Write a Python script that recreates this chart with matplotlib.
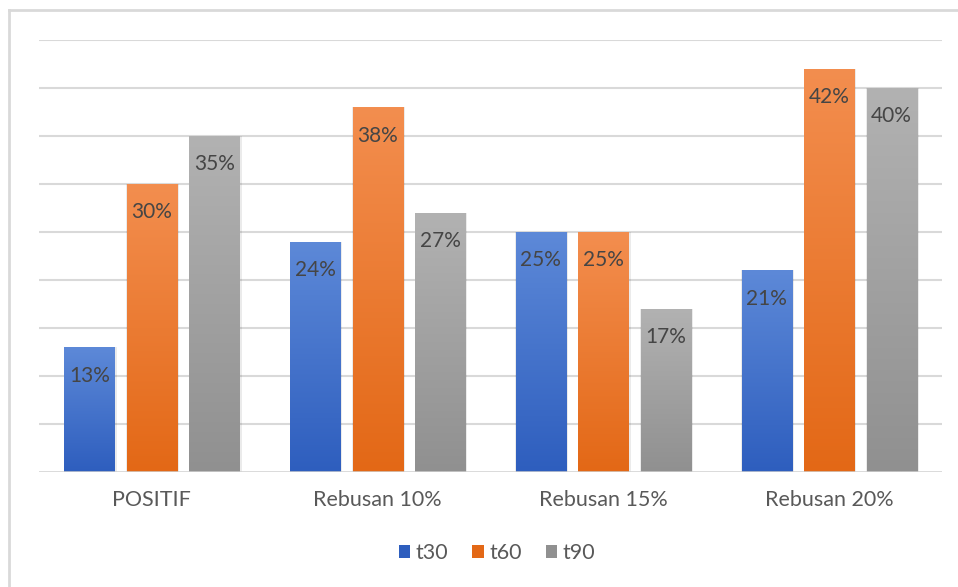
import numpy as np
import matplotlib
matplotlib.use("Agg")
import matplotlib.pyplot as plt
from matplotlib.colors import LinearSegmentedColormap
from matplotlib.patches import Patch
from matplotlib.lines import Line2D

categories = ["POSITIF", "Rebusan 10%", "Rebusan 15%", "Rebusan 20%"]
series = ["t30", "t60", "t90"]
t30 = [13, 24, 25, 21]
t60 = [30, 38, 25, 42]
t90 = [35, 27, 17, 40]

# (top, bottom) colours of the gradient
colors = {
    "t30": ("#5D89D8", "#2E5EBE"),
    "t60": ("#F38E4F", "#E36816"),
    "t90": ("#B2B2B2", "#909090"),
}

plt.rcParams['font.family'] = ['Lato', 'DejaVu Sans']

fig = plt.figure(figsize=(9.58, 5.87), dpi=100)
ax = fig.add_axes([39 / 958, 1 - 472 / 587, 903 / 958, 432 / 587])

# outer chart border (only left and top visible)
fig.add_artist(Line2D([9 / 958, 9 / 958], [0, 1 - 10 / 587], transform=fig.transFigure,
                      color="#D9D9D9", lw=2))
fig.add_artist(Line2D([9 / 958, 1], [1 - 10 / 587, 1 - 10 / 587], transform=fig.transFigure,
                      color="#D9D9D9", lw=2))

x = np.arange(len(categories))
width = 0.222
step = 0.277
data = [t30, t60, t90]

ax.set_xlim(-0.5, 3.5)
ax.set_ylim(0, 45)
for y in range(5, 50, 5):
    ax.axhline(y, color="#D9D9D9", lw=1.5, zorder=0)
ax.axhline(0, color="#D0D0D0", lw=1.8, zorder=4)

grad = np.linspace(0, 1, 256).reshape(-1, 1)
for i, (name, vals) in enumerate(zip(series, data)):
    top, bot = colors[name]
    cmap = LinearSegmentedColormap.from_list(name, [bot, top])
    bars = ax.bar(x + (i - 1) * step, vals, width, color=top, zorder=2)
    for b, v in zip(bars, vals):
        x0 = b.get_x()
        # soft shadow
        ax.bar(x0 + b.get_width() / 2 + 0.004, v, b.get_width() + 0.012, color="#000000",
               alpha=0.08, zorder=1)
        im = ax.imshow(grad, cmap=cmap, aspect="auto", origin="lower",
                       extent=[x0, x0 + b.get_width(), 0, v], zorder=3)
        im.set_clip_path(b)
        ax.annotate(f"{v}%", (x0 + b.get_width() / 2, v), xytext=(0, -20.5),
                    textcoords="offset points", ha="center", va="center",
                    fontsize=15, color="#454545", zorder=5)

ax.set_xticks(x)
ax.set_xticklabels(categories, fontsize=15.5, color="#595959")
ax.tick_params(axis="x", length=0, pad=13)
ax.set_yticks([])
for s in ax.spines.values():
    s.set_visible(False)

handles = [Patch(facecolor=colors[n][1], label=n) for n in series]
fig.legend(handles=handles, loc="center", bbox_to_anchor=(497 / 958, 1 - 553 / 587),
           ncol=3, frameon=False, fontsize=15.5, handlelength=0.55, handleheight=0.55,
           handletextpad=0.25, columnspacing=1.1, labelcolor="#595959")

fig.savefig("out.png", dpi=100)
